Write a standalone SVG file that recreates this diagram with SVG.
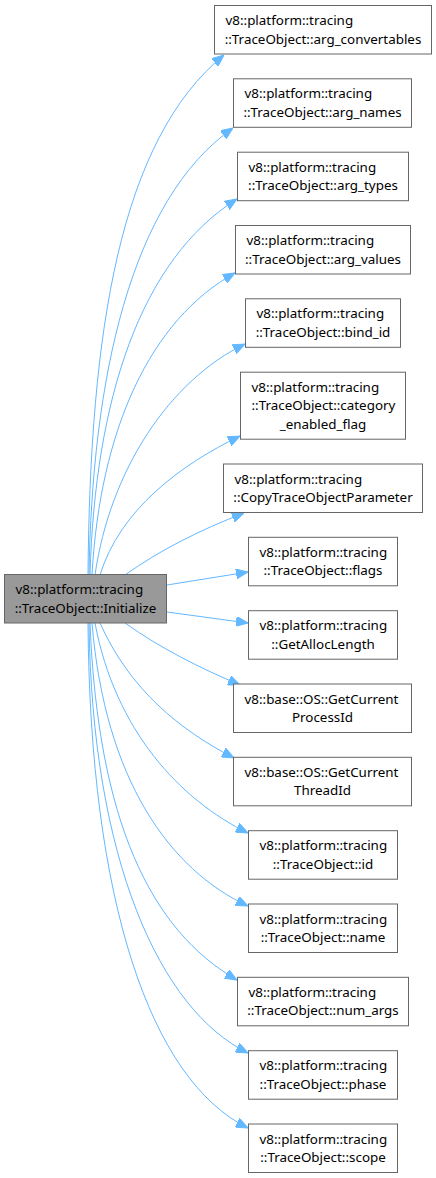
<svg xmlns="http://www.w3.org/2000/svg" width="436" height="1178" viewBox="0 0 436 1178">
<style>
.n rect{fill:#ffffff;stroke:#666666;stroke-width:1}
.root rect{fill:#999999;stroke:#666666;stroke-width:1}
text{font-family:"Noto Sans","Open Sans","DejaVu Sans",sans-serif;font-size:13.4px;fill:#000000}
.l{text-anchor:start}
.c{text-anchor:middle}
.e path{fill:none;stroke:#63b8ff;stroke-width:1;marker-end:url(#ah)}
</style>
<defs>
<marker id="ah" viewBox="0 0 12 10" refX="12" refY="5" markerWidth="12" markerHeight="10" markerUnits="userSpaceOnUse" orient="auto">
<path d="M0,0 L12,5 L0,10 z" fill="#63b8ff" stroke="#63b8ff" stroke-width="1"/>
</marker>
</defs>
<rect width="436" height="1178" fill="#ffffff"/>
<g class="e" id="edges">
<path d="M88,575 C90,330 120,140 224,55"/>
<path d="M89,575 C92,380 130,200 233,128"/>
<path d="M90,575 C95,400 140,260 237,199"/>
<path d="M92,575 C100,430 150,320 235,273"/>
<path d="M95,575 C110,470 170,380 245,344"/>
<path d="M100,575 C120,510 180,465 240,436"/>
<path d="M125,575 C160,550 200,530 244,513"/>
<path d="M167,585 L248,572"/>
<path d="M167,612 L248,623"/>
<path d="M125,623 C160,648 200,668 240,685"/>
<path d="M100,623 C130,690 180,730 234,758"/>
<path d="M95,623 C115,730 180,800 248,833"/>
<path d="M92,623 C105,780 170,870 248,906"/>
<path d="M90,623 C98,820 150,930 237,980"/>
<path d="M89,623 C92,860 160,1010 248,1053"/>
<path d="M88,623 C90,900 150,1080 248,1128"/>
</g>
<g class="root" id="node_initialize">
<rect x="4.5" y="574.5" width="162" height="48.5"/>
<text class="l" x="15.5" y="594.1">v8::platform::tracing</text>
<text class="c" x="85.5" y="612.6">::TraceObject::Initialize</text>
</g>
<g class="n" id="node_arg_convertables">
<rect x="214.5" y="5.5" width="217" height="48.5"/>
<text class="l" x="225.5" y="25.1">v8::platform::tracing</text>
<text class="c" x="323" y="43.6">::TraceObject::arg_convertables</text>
</g>
<g class="n" id="node_arg_names">
<rect x="233.5" y="78.8" width="178" height="48.5"/>
<text class="l" x="244.5" y="98.4">v8::platform::tracing</text>
<text class="c" x="322.5" y="116.9">::TraceObject::arg_names</text>
</g>
<g class="n" id="node_arg_types">
<rect x="237.5" y="152.2" width="171" height="48.5"/>
<text class="l" x="248.5" y="171.8">v8::platform::tracing</text>
<text class="c" x="323" y="190.3">::TraceObject::arg_types</text>
</g>
<g class="n" id="node_arg_values">
<rect x="235.5" y="225.5" width="175" height="48.5"/>
<text class="l" x="246.5" y="245.1">v8::platform::tracing</text>
<text class="c" x="323" y="263.6">::TraceObject::arg_values</text>
</g>
<g class="n" id="node_bind_id">
<rect x="245.5" y="298.8" width="155" height="48.5"/>
<text class="l" x="256.5" y="318.4">v8::platform::tracing</text>
<text class="c" x="323" y="336.9">::TraceObject::bind_id</text>
</g>
<g class="n" id="node_category_enabled_flag">
<rect x="240.5" y="372.2" width="165" height="67"/>
<text class="l" x="251.5" y="391.8">v8::platform::tracing</text>
<text class="l" x="251.5" y="410.3">::TraceObject::category</text>
<text class="c" x="323" y="428.8">_enabled_flag</text>
</g>
<g class="n" id="node_copy_trace_object_parameter">
<rect x="223.5" y="464" width="199" height="48.5"/>
<text class="l" x="234.5" y="483.6">v8::platform::tracing</text>
<text class="c" x="323" y="502.1">::CopyTraceObjectParameter</text>
</g>
<g class="n" id="node_flags">
<rect x="248.5" y="537.3" width="149" height="48.5"/>
<text class="l" x="259.5" y="556.9">v8::platform::tracing</text>
<text class="c" x="323" y="575.4">::TraceObject::flags</text>
</g>
<g class="n" id="node_get_alloc_length">
<rect x="248.5" y="610.7" width="149" height="48.5"/>
<text class="l" x="259.5" y="630.3">v8::platform::tracing</text>
<text class="c" x="323" y="648.8">::GetAllocLength</text>
</g>
<g class="n" id="node_get_current_process_id">
<rect x="233.5" y="684" width="178" height="48.5"/>
<text class="l" x="244.5" y="703.6">v8::base::OS::GetCurrent</text>
<text class="c" x="322.5" y="722.1">ProcessId</text>
</g>
<g class="n" id="node_get_current_thread_id">
<rect x="233.5" y="757.3" width="178" height="48.5"/>
<text class="l" x="244.5" y="776.9">v8::base::OS::GetCurrent</text>
<text class="c" x="322.5" y="795.4">ThreadId</text>
</g>
<g class="n" id="node_id">
<rect x="248.5" y="830.7" width="149" height="48.5"/>
<text class="l" x="259.5" y="850.3">v8::platform::tracing</text>
<text class="c" x="323" y="868.8">::TraceObject::id</text>
</g>
<g class="n" id="node_name">
<rect x="248.5" y="904" width="149" height="48.5"/>
<text class="l" x="259.5" y="923.6">v8::platform::tracing</text>
<text class="c" x="323" y="942.1">::TraceObject::name</text>
</g>
<g class="n" id="node_num_args">
<rect x="237.5" y="977.3" width="171" height="48.5"/>
<text class="l" x="248.5" y="996.9">v8::platform::tracing</text>
<text class="c" x="323" y="1015.4">::TraceObject::num_args</text>
</g>
<g class="n" id="node_phase">
<rect x="248.5" y="1050.7" width="149" height="48.5"/>
<text class="l" x="259.5" y="1070.3">v8::platform::tracing</text>
<text class="c" x="323" y="1088.8">::TraceObject::phase</text>
</g>
<g class="n" id="node_scope">
<rect x="248.5" y="1124" width="149" height="48.5"/>
<text class="l" x="259.5" y="1143.6">v8::platform::tracing</text>
<text class="c" x="323" y="1162.1">::TraceObject::scope</text>
</g>
</svg>
